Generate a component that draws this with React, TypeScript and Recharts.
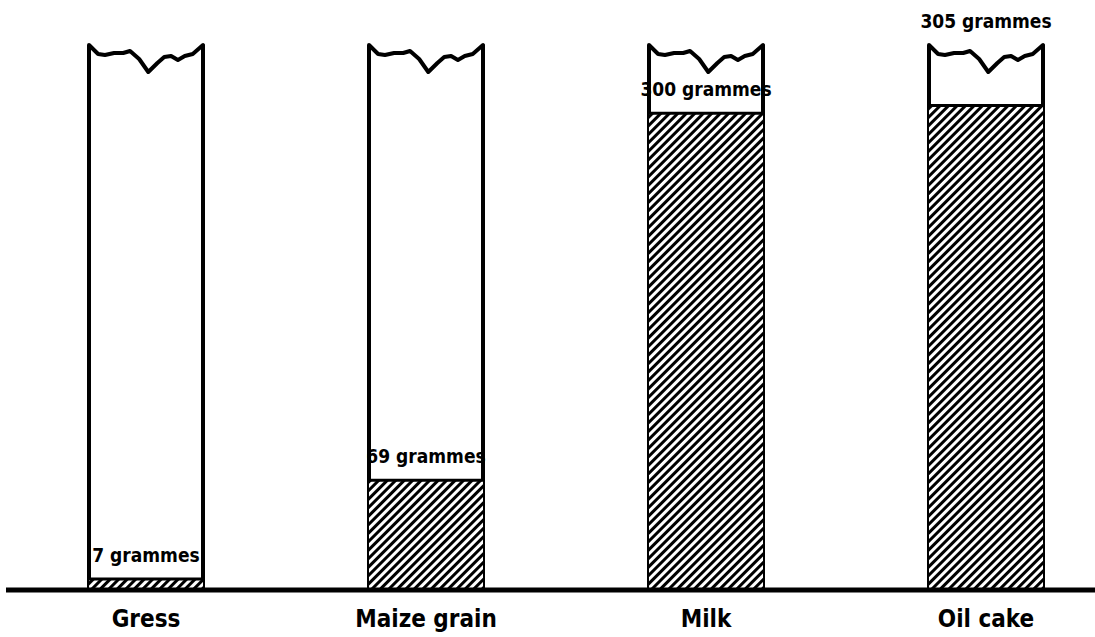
import { ComposedChart, Bar, XAxis, YAxis, LabelList } from 'recharts'

const categories = ['Gress', 'Maize grain', 'Milk', 'Oil cake']
const grammes = [7, 69, 300, 305]
const valueLabels = ['7 grammes', '69 grammes', '300 grammes', '305 grammes']

const data = categories.map((name, i) => ({ name, value: grammes[i], label: valueLabels[i] }))

const FONT = "'DejaVu Sans Condensed', 'Liberation Sans Narrow', sans-serif"
const TOP = 45

// jagged "torn" top of each column, as fractions of width / px down
const tear = [
  [0, 0], [0.08, 9], [0.14, 10], [0.22, 8], [0.3, 8], [0.36, 6], [0.44, 14],
  [0.52, 27], [0.6, 18], [0.66, 12], [0.72, 11], [0.78, 15], [0.84, 11], [0.91, 9], [1, 0],
]

function ColumnOutline(props: any) {
  const { x, y, width, height } = props
  const left = x
  const right = x + width
  const bottom = y + height
  const top = tear.map(([fx, dy]) => `L${left + fx * width},${y + dy}`).join(' ')
  const d = `M${left},${bottom} L${left},${y} ${top} L${right},${bottom}`
  return <path d={d} fill="#fff" stroke="#000" strokeWidth={4} strokeLinejoin="round" />
}

function FillShape(props: any) {
  const { x, y, width, height } = props
  return (
    <g>
      <rect x={x} y={y} width={width} height={height} fill="url(#hatch)" />
      <line x1={x} x2={x + width} y1={y} y2={y} stroke="#000" strokeWidth={3} />
    </g>
  )
}

function ValueLabel(props: any) {
  const { x, y, width, value } = props
  // near the torn top there's no room, so the label goes above the column
  const ly = y - TOP < 64 ? TOP - 17 : y - 17
  return (
    <text
      x={x + width / 2}
      y={ly}
      textAnchor="middle"
      fontFamily={FONT}
      fontWeight={700}
      fontSize={19}
      fill="#000"
    >
      {value}
    </text>
  )
}

export default function App() {
  return (
    <div style={{ position: 'absolute', left: 0, top: 0, width: 1095, height: 637, overflow: 'hidden', background: '#fff' }}>
      <ComposedChart width={1130} height={637} data={data} margin={{ top: TOP, right: 4, bottom: 0, left: 6 }}>
        <defs>
          <pattern id="hatch" width={6} height={6} patternUnits="userSpaceOnUse" patternTransform="rotate(45)">
            <rect width={6} height={6} fill="#fff" />
            <rect width={3} height={6} fill="#000" />
          </pattern>
        </defs>
        <XAxis
          dataKey="name"
          height={47}
          axisLine={{ stroke: '#000', strokeWidth: 5 }}
          tickLine={false}
          tick={{ fill: '#000', fontSize: 24, fontWeight: 700, fontFamily: FONT, dy: 12 }}
          interval={0}
        />
        <YAxis hide domain={[0, 343]} />
        <Bar
          dataKey="value"
          barSize={114}
          isAnimationActive={false}
          background={(p: any) => <ColumnOutline key={`bg-${p.index}`} {...p} />}
          shape={(p: any) => <FillShape {...p} />}
        >
          <LabelList dataKey="label" content={(p: any) => <ValueLabel {...p} />} />
        </Bar>
      </ComposedChart>
    </div>
  )
}
